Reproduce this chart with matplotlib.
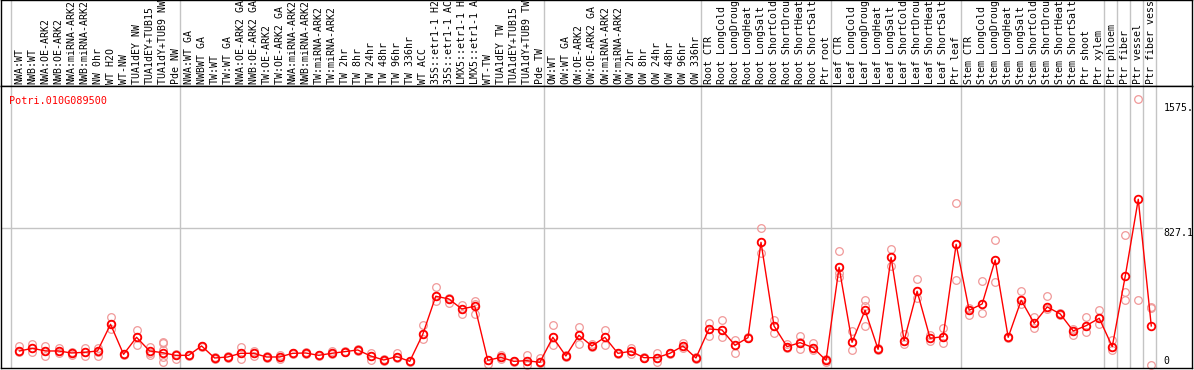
import matplotlib
matplotlib.use("Agg")
import matplotlib.pyplot as plt

# sample labels, in plot order
labels = [
    "NWA:WT", "NWB:WT", "NWA:OE-ARK2", "NWB:OE-ARK2", "NWA:miRNA-ARK2", "NWB:miRNA-ARK2",
    "NW 0hr", "WT H2O", "WT-NW", "TUA1dEY NW", "TUA1dEY+TUB15 NW", "TUA1dY+TUB9 NW", "Pde NW",
    "NWA:WT GA", "NWBWT GA", "TW:WT", "TW:WT GA", "NWA:OE-ARK2 GA", "NWB:OE-ARK2 GA",
    "TW:OE-ARK2", "TW:OE-ARK2 GA", "NWA:miRNA-ARK2", "NWB:miRNA-ARK2", "TW:miRNA-ARK2",
    "TW:miRNA-ARK2", "TW 2hr", "TW 8hr", "TW 24hr", "TW 48hr", "TW 96hr", "TW 336hr", "WT ACC",
    "35S::etr1-1 H2O", "35S::etr1-1 ACC", "LMX5::etr1-1 H2O", "LMX5::etr1-1 ACC", "WT-TW",
    "TUA1dEY TW", "TUA1dEY+TUB15 TW", "TUA1dY+TUB9 TW", "Pde TW",
    "OW:WT", "OW:WT GA", "OW:OE-ARK2", "OW:OE-ARK2 GA", "OW:miRNA-ARK2", "OW:miRNA-ARK2",
    "OW 2hr", "OW 8hr", "OW 24hr", "OW 48hr", "OW 96hr", "OW 336hr",
    "Root CTR", "Root LongCold", "Root LongDrought", "Root LongHeat", "Root LongSalt",
    "Root ShortCold", "Root ShortDrought", "Root ShortHeat", "Root ShortSalt", "Ptr root",
    "Leaf CTR", "Leaf LongCold", "Leaf LongDrought", "Leaf LongHeat", "Leaf LongSalt",
    "Leaf ShortCold", "Leaf ShortDrought", "Leaf ShortHeat", "Leaf ShortSalt", "Ptr leaf",
    "Stem CTR", "Stem LongCold", "Stem LongDrought", "Stem LongHeat", "Stem LongSalt",
    "Stem ShortCold", "Stem ShortDrought", "Stem ShortHeat", "Stem ShortSalt", "Ptr shoot",
    "Ptr xylem", "Ptr phloem", "Ptr fiber", "Ptr vessel", "Ptr fiber vessel",
]

# mean expression per sample
means = [
    90, 106, 90, 90, 78, 82, 90, 250, 70, 172, 90, 80, 64,
    64, 120, 48, 54, 76, 76, 54, 54, 76, 78, 64, 76, 86, 96, 60, 36, 56, 28,
    190, 418, 402, 342, 358, 34, 52, 28, 32, 22,
    172, 60, 184, 120, 172, 76, 88, 50, 50, 76, 120, 48,
    222, 216, 124, 170, 741, 240, 116, 140, 110, 34,
    591, 142, 334, 100, 651, 152, 448, 166, 176, 729,
    334, 372, 635, 172, 394, 256, 354, 312, 210, 242, 286,
    116, 539, 999, 240,
]

# individual replicates per sample
replicates = [
    [122, 92, 84], [130, 106, 86], [120, 90, 60], [110, 90, 76], [84, 78, 66],
    [106, 82, 60], [106, 84, 62], [292, 250, 220], [72, 70, 68], [216, 172, 126],
    [116, 80, 66], [146, 136, 96, 56, 26], [70, 64, 40],
    [66, 64, 62], [122, 120, 116], [52, 48, 44], [58, 54, 50], [114, 76, 40],
    [92, 76, 62], [58, 54, 50], [66, 54, 44], [80, 76, 72], [82, 78, 74],
    [68, 64, 60], [90, 76, 70], [90, 86, 82], [100, 96, 92], [80, 60, 36],
    [40, 36, 32], [76, 56, 50], [32, 28, 24], [246, 190, 160], [475, 418, 390],
    [410, 402, 380], [366, 342, 310], [391, 370, 310], [38, 34, 12], [66, 52, 40],
    [32, 28, 24], [66, 32, 6], [46, 22, 18],
    [244, 172, 126], [64, 60, 56], [232, 184, 132], [132, 120, 112], [216, 172, 126],
    [80, 76, 72], [108, 88, 72], [54, 50, 46], [76, 50, 26], [80, 76, 72],
    [136, 120, 110], [56, 48, 40],
    [256, 222, 180], [276, 216, 176], [154, 124, 80], [174, 170, 166], [825, 741, 679],
    [276, 240, 196], [132, 116, 108], [180, 142, 104], [140, 110, 96], [44, 34, 24],
    [689, 591, 555, 535], [210, 142, 96], [396, 360, 240], [110, 100, 96], [701, 651, 599],
    [190, 152, 130], [520, 448, 409], [186, 166, 150], [226, 176, 136], [975, 729, 515],
    [350, 334, 307], [509, 372, 316], [755, 635, 502], [176, 172, 168], [449, 394, 370],
    [295, 256, 226], [420, 354, 340], [316, 312, 308], [222, 210, 186], [294, 242, 206],
    [334, 286, 250],
    [156, 116, 96], [785, 442, 396], [1602, 396], [356, 350, 6],
]

# sample index where each group starts (plus the end)
group_edges = [0, 13, 41, 53, 63, 73, 84, 85, 86, 87, 88]

gene = "Potri.010G089500"
ytick_vals = [1575, 827.1, 0]
ytick_text = ["1575.", "827.1", "0"]

W, H = 1194, 370
fig = plt.figure(figsize=(W / 100, H / 100), dpi=100)

mono = "DejaVu Sans Mono"
x0, x1 = -0.77, 90.78
gray = "#c4c4c4"
max_chars = 14  # header only has room for this many

# header with rotated sample names
hax = fig.add_axes([1 / W, 1 - 86 / H, 1191 / W, 86 / H])
hax.set_xlim(x0, x1)
hax.set_ylim(0, 86)
hax.set_xticks([])
hax.set_yticks([])
for s in hax.spines.values():
    s.set_color("black")
    s.set_linewidth(1)

# main plot
ax = fig.add_axes([1 / W, 2 / H, 1191 / W, 282 / H])
ax.set_xlim(x0, x1)
ax.set_ylim(-12, 1678)
ax.set_xticks([])
ax.set_yticks([])
for s in ax.spines.values():
    s.set_color("black")
    s.set_linewidth(1)

for e in group_edges:
    hax.axvline(e, color=gray, lw=1, zorder=0)
    ax.axvline(e, color=gray, lw=1, zorder=0)

xs = [i + 0.65 for i in range(len(means))]

for x, lab in zip(xs, labels):
    hax.text(x, 2, lab[:max_chars].rstrip(), rotation=90, ha="center", va="bottom",
             fontsize=7.1, family=mono, color="black")

# gridline at the middle tick
ax.plot([x0, 88.45], [ytick_vals[1], ytick_vals[1]], color=gray, lw=1, zorder=0)

for x, reps in zip(xs, replicates):
    ax.plot([x] * len(reps), reps, "o", ms=5.5, mfc="none", mec="#f09999",
            mew=0.9, zorder=2, clip_on=False)

ax.plot(xs, means, "-", color="#ff0000", lw=1, zorder=3)
ax.plot(xs, means, "o", ms=5.5, mfc="none", mec="#ff0000", mew=1.3, zorder=4)

vas = ["top", "top", "bottom"]
for v, t, va in zip(ytick_vals, ytick_text, vas):
    ax.text(88.6, v, t, ha="left", va=va, fontsize=7.1, family=mono, color="black")

ax.text(-0.15, 1590, gene, ha="left", va="center", fontsize=7.3, family=mono, color="red")

fig.savefig("out.png", dpi=100)
